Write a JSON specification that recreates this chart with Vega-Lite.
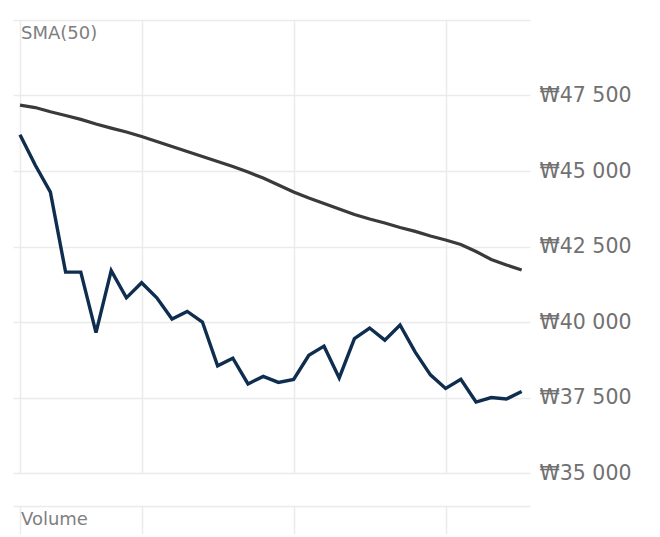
{
  "$schema": "https://vega.github.io/schema/vega-lite/v6.json",
  "padding": {"left": 13, "top": 20, "right": 0, "bottom": 0},
  "spacing": 33,
  "bounds": "flush",
  "config": {
    "view": {"stroke": null},
    "font": "DejaVu Sans",
    "axis": {"gridColor": "#ebebeb", "gridWidth": 1.5}
  },
  "datasets": {
    "price": [
      {"i": 0, "close": 46200, "sma": 47180},
      {"i": 1, "close": 45200, "sma": 47100},
      {"i": 2, "close": 44300, "sma": 46960},
      {"i": 3, "close": 41650, "sma": 46840},
      {"i": 4, "close": 41650, "sma": 46710},
      {"i": 5, "close": 39650, "sma": 46555},
      {"i": 6, "close": 41700, "sma": 46420},
      {"i": 7, "close": 40800, "sma": 46290},
      {"i": 8, "close": 41300, "sma": 46140},
      {"i": 9, "close": 40800, "sma": 45975},
      {"i": 10, "close": 40100, "sma": 45810},
      {"i": 11, "close": 40350, "sma": 45645},
      {"i": 12, "close": 40000, "sma": 45480},
      {"i": 13, "close": 38550, "sma": 45315},
      {"i": 14, "close": 38800, "sma": 45150},
      {"i": 15, "close": 37950, "sma": 44965},
      {"i": 16, "close": 38200, "sma": 44765},
      {"i": 17, "close": 38000, "sma": 44535},
      {"i": 18, "close": 38100, "sma": 44305},
      {"i": 19, "close": 38900, "sma": 44105},
      {"i": 20, "close": 39200, "sma": 43925},
      {"i": 21, "close": 38150, "sma": 43740},
      {"i": 22, "close": 39450, "sma": 43560},
      {"i": 23, "close": 39800, "sma": 43410},
      {"i": 24, "close": 39400, "sma": 43280},
      {"i": 25, "close": 39900, "sma": 43130},
      {"i": 26, "close": 39000, "sma": 43000},
      {"i": 27, "close": 38250, "sma": 42845},
      {"i": 28, "close": 37800, "sma": 42715},
      {"i": 29, "close": 38100, "sma": 42565},
      {"i": 30, "close": 37350, "sma": 42335},
      {"i": 31, "close": 37500, "sma": 42070},
      {"i": 32, "close": 37450, "sma": 41890},
      {"i": 33, "close": 37700, "sma": 41720}
    ]
  },
  "vconcat": [
    {
      "width": 517,
      "height": 453,
      "layer": [
        {
          "data": {"name": "price"},
          "mark": {"type": "line", "color": "#3a3a3a", "strokeWidth": 3.2},
          "encoding": {
            "x": {
              "field": "i", "type": "quantitative",
              "scale": {"domain": [-0.46, 33.55], "nice": false, "zero": false},
              "axis": {"values": [0, 8, 18, 28], "labels": false, "ticks": false, "domain": false, "title": null, "grid": true}
            },
            "y": {
              "field": "sma", "type": "quantitative",
              "scale": {"domain": [35000, 50000], "nice": false, "zero": false},
              "axis": {
                "orient": "right",
                "values": [35000, 37500, 40000, 42500, 45000, 47500, 50000],
                "labelExpr": "datum.value >= 50000 ? '' : '₩' + replace(format(datum.value, ','), ',', ' ')",
                "ticks": false, "domain": false, "title": null,
                "labelFont": "DejaVu Sans",
                "labelFontSize": 20.5, "labelColor": "#717171", "labelPadding": 9
              }
            }
          }
        },
        {
          "data": {"name": "price"},
          "mark": {"type": "line", "color": "#0f2e4f", "strokeWidth": 3.4},
          "encoding": {
            "x": {"field": "i", "type": "quantitative"},
            "y": {"field": "close", "type": "quantitative"}
          }
        },
        {
          "data": {"values": [{"i": -0.46, "v": 50000, "t": "SMA(50)"}]},
          "mark": {"type": "text", "align": "left", "baseline": "middle", "dx": 8, "dy": 13.5, "fontSize": 18, "color": "#7f7f7f"},
          "encoding": {
            "x": {"field": "i", "type": "quantitative"},
            "y": {"field": "v", "type": "quantitative"},
            "text": {"field": "t"}
          }
        }
      ]
    },
    {
      "width": 517,
      "height": 28,
      "data": {"values": [{"i": -0.46, "v": 1, "t": "Volume"}]},
      "mark": {"type": "text", "align": "left", "baseline": "middle", "dx": 8, "dy": 13.5, "fontSize": 18, "color": "#7f7f7f"},
      "encoding": {
        "x": {
          "field": "i", "type": "quantitative",
          "scale": {"domain": [-0.46, 33.55], "nice": false, "zero": false},
          "axis": {"values": [0, 8, 18, 28], "labels": false, "ticks": false, "domain": false, "title": null, "grid": true}
        },
        "y": {
          "field": "v", "type": "quantitative",
          "scale": {"domain": [0, 1], "nice": false, "zero": false},
          "axis": {"orient": "right", "values": [1], "labels": false, "ticks": false, "domain": false, "title": null, "grid": true}
        },
        "text": {"field": "t"}
      }
    }
  ]
}
